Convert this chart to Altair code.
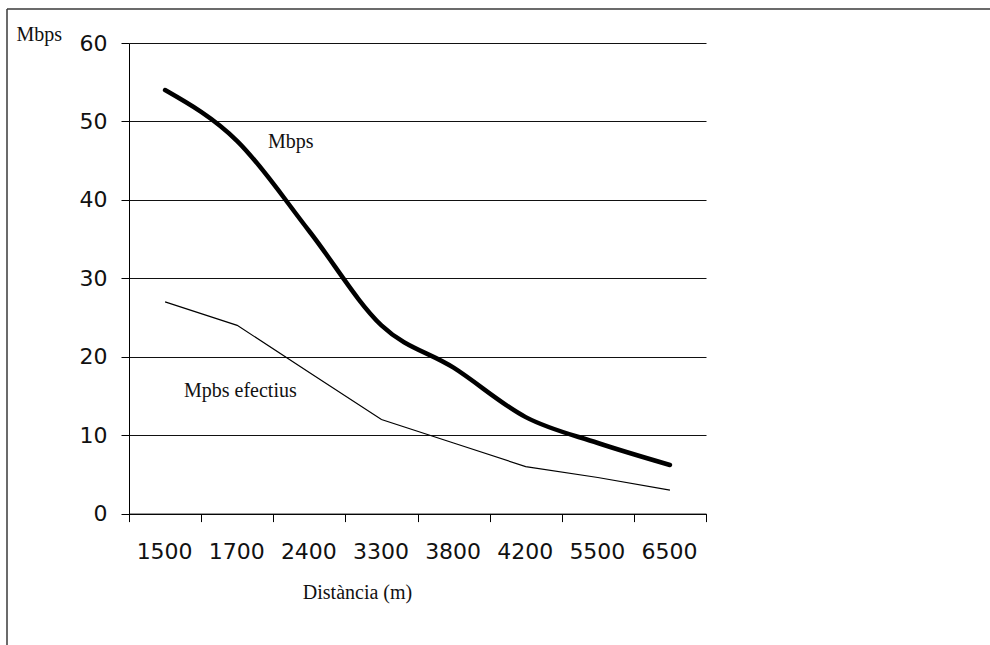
import altair as alt
import pandas as pd

distancies = ["1500", "1700", "2400", "3300", "3800", "4200", "5500", "6500"]
mbps = [54, 47.5, 36, 24, 18.6, 12.3, 9, 6.2]
mbps_efectius = [27, 24, 18, 12, 9, 6, 4.6, 3]

df = pd.DataFrame({"dist": distancies, "mbps": mbps, "ef": mbps_efectius})
one = pd.DataFrame({"k": [0]})

W, H = 577, 470.6
L, T = 129, 43
STEP = W / len(distancies)

xenc = alt.X(
    "dist:O",
    sort=None,
    bandPosition=0.5,
    scale=alt.Scale(type="band", paddingInner=0, paddingOuter=0),
    axis=alt.Axis(
        title="Distància (m)",
        titleFont="Liberation Serif",
        titleFontSize=20,
        titleFontWeight="normal",
        titleColor="#111",
        titleX=228,
        titleY=85,
        titleAlign="center",
        titleBaseline="alphabetic",
        labelAngle=0,
        labelFont="DejaVu Sans",
        labelFontSize=22,
        labelColor="#111",
        labelPadding=30,
        labelOffset=STEP / 2 - 9,
        tickBand="extent",
        tickSize=8,
        tickColor="#000",
        domainColor="#000",
        grid=False,
    ),
)

yscale = alt.Scale(domain=[0, 60], nice=False)

thick = alt.Chart(df).mark_line(
    color="black", strokeWidth=4.5, interpolate="monotone", strokeCap="round"
).encode(
    x=xenc,
    y=alt.Y(
        "mbps:Q",
        scale=yscale,
        axis=alt.Axis(
            values=[0, 10, 20, 30, 40, 50, 60],
            title="Mbps",
            titleFont="Liberation Serif",
            titleFontSize=20,
            titleFontWeight="normal",
            titleColor="#111",
            titleAngle=0,
            titleAlign="left",
            titleBaseline="alphabetic",
            titleX=-113,
            titleY=-3,
            labelFont="DejaVu Sans",
            labelFontSize=22,
            labelColor="#111",
            labelPadding=14,
            tickSize=8,
            tickColor="#000",
            domainColor="#000",
            grid=True,
            gridColor="#111",
            gridWidth=1,
        ),
    ),
)

thin = alt.Chart(df).mark_line(color="black", strokeWidth=1.2).encode(
    x=alt.X("dist:O", sort=None, bandPosition=0.5),
    y=alt.Y("ef:Q", scale=yscale),
)

lbl1 = alt.Chart(one).mark_text(
    text="Mbps", font="Liberation Serif", fontSize=20, align="left",
    baseline="alphabetic", color="#111"
).encode(x=alt.value(268 - L), y=alt.value(148 - T))

lbl2 = alt.Chart(one).mark_text(
    text="Mpbs efectius", font="Liberation Serif", fontSize=20, align="left",
    baseline="alphabetic", color="#111"
).encode(x=alt.value(184 - L), y=alt.value(397 - T))

frame_top = alt.Chart(one).mark_rule(color="#3a3a3a", strokeWidth=1.5).encode(
    x=alt.value(7 - L), x2=alt.value(995 - L), y=alt.value(9 - T)
)
frame_left = alt.Chart(one).mark_rule(color="#3a3a3a", strokeWidth=1.5).encode(
    x=alt.value(7 - L), y=alt.value(9 - T), y2=alt.value(650 - T)
)

chart = alt.layer(frame_top, frame_left, thin, thick, lbl1, lbl2).properties(
    width=W,
    height=H,
    autosize=alt.AutoSizeParams(type="none"),
    padding={"left": L, "top": T, "right": 990 - L - W, "bottom": 645 - T - H},
    background="white",
).configure_view(stroke=None)

chart.save("out.html", embed_options={"renderer": "svg", "actions": False})
